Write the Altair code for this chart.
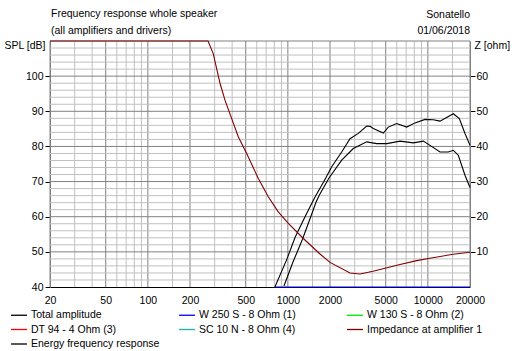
import altair as alt
import pandas as pd

# ---- series names / colours (legend order) ----
series_names = ["Total amplitude", "W 250 S - 8 Ohm  (1)", "W 130 S - 8 Ohm (2)",
                "DT 94 - 4 Ohm (3)", "SC 10 N - 8 Ohm (4)", "Impedance at amplifier 1",
                "Energy frequency response"]
series_colors = ["#000000", "#0000FF", "#00E000", "#FF0000", "#20B0B0", "#800000", "#000000"]

# ---- data ----
tot_freq = [808, 986, 1125, 1326, 1563, 1812, 2057, 2424, 2780, 3186, 3657, 3860, 4076,
            4805, 5216, 5988, 7064, 8094, 9545, 10940, 12210, 15200, 16780, 18420, 20000]
tot_db = [40.0, 48.0, 54.1, 60.0, 65.6, 70.1, 74.2, 78.4, 82.2, 83.7, 85.8, 85.7, 85.1,
          83.8, 85.5, 86.5, 85.5, 86.7, 87.7, 87.6, 87.2, 89.3, 87.9, 83.7, 80.3]

en_freq = [938, 1088, 1272, 1488, 1589, 1676, 1968, 2424, 2935, 3657, 4312, 5108, 6325,
           7874, 9282, 10360, 12210, 14000, 15200, 16500, 18420, 20000]
en_db = [40.3, 47.1, 53.6, 61.0, 64.1, 66.1, 71.0, 76.1, 79.4, 81.3, 80.8, 80.8, 81.5,
         81.0, 81.5, 80.3, 78.4, 78.4, 78.9, 77.5, 71.8, 68.3]

w250_freq = [810, 20000]
w250_db = [40.0, 40.0]

imp_freq = [20, 269, 293, 328, 356, 397, 443, 508, 615, 725, 854, 1008, 1290, 1697, 2000,
            2780, 3276, 4058, 5108, 6325, 8320, 10360, 15130, 20000]
imp_ohm = [70, 70, 66.4, 57.9, 53.1, 47.9, 42.7, 38.0, 30.9, 25.7, 21.4, 18.1, 13.8, 9.4, 7.0,
           4.0, 3.7, 4.5, 5.5, 6.4, 7.5, 8.2, 9.3, 9.9]

# ---- axis ticks / grid ----
freq_labels = [20, 50, 100, 200, 500, 1000, 2000, 5000, 10000, 20000]
freq_minor = [30, 40, 60, 70, 80, 90, 150, 300, 400, 600, 700, 800, 900, 1500,
              3000, 4000, 6000, 7000, 8000, 9000, 15000]
db_labels = [40, 50, 60, 70, 80, 90, 100]
db_major = [50, 60, 70, 80, 90, 100, 110]
db_minor = [42, 44, 46, 48, 52, 54, 56, 58, 62, 64, 66, 68, 72, 74, 76, 78, 82, 84, 86, 88,
            92, 94, 96, 98, 102, 104, 106, 108]
ohm_labels = [10, 20, 30, 40, 50, 60]

title_line1 = "Frequency response whole speaker"
title_line2 = "(all amplifiers and drivers)"
right_line1 = "Sonatello"
right_line2 = "01/06/2018"

FONT = "Liberation Sans"
FS = 10.5

rows = []
for f, v in zip(tot_freq, tot_db):
    rows.append({"f": f, "v": v, "s": series_names[0]})
for f, v in zip(w250_freq, w250_db):
    rows.append({"f": f, "v": v, "s": series_names[1]})
for f, v in zip(en_freq, en_db):
    rows.append({"f": f, "v": v, "s": series_names[6]})
spl_df = pd.DataFrame(rows)
imp_df = pd.DataFrame({"f": imp_freq, "v": imp_ohm, "s": series_names[5]})

xscale = alt.Scale(type="log", domain=[20, 20000], nice=False)
xaxis = alt.Axis(values=freq_labels, format="d", ticks=False, grid=False, domain=True,
                 domainColor="#000000", labelFont=FONT, labelFontSize=FS, labelColor="#000000",
                 labelPadding=8, labelFlush=False, labelOverlap=False, title=None)


def X():
    return alt.X("f:Q", scale=xscale, axis=xaxis)


color = alt.Color("s:N", scale=alt.Scale(domain=series_names, range=series_colors),
                  legend=alt.Legend(title=None, orient="none", legendX=-38, legendY=267,
                                    direction="horizontal", columns=3, gridAlign="all",
                                    symbolType="M-1.33,0H1.33",
                                    symbolSize=144, symbolStrokeWidth=1.3, labelOffset=5,
                                    columnPadding=16, rowPadding=1.5, labelFont=FONT,
                                    labelFontSize=FS, labelColor="#000000", padding=0,
                                    labelLimit=200))

spl_scale = alt.Scale(domain=[40, 110], nice=False, zero=False)

vminor = alt.Chart(pd.DataFrame({"f": freq_minor})).mark_rule(
    color="#C0C0C0", strokeWidth=1).encode(x=X())
vmajor = alt.Chart(pd.DataFrame({"f": freq_labels})).mark_rule(
    color="#808080", strokeWidth=1).encode(x=X())
hminor = alt.Chart(pd.DataFrame({"v": db_minor})).mark_rule(
    color="#C0C0C0", strokeWidth=1).encode(y=alt.Y("v:Q", scale=spl_scale, axis=None))
hmajor = alt.Chart(pd.DataFrame({"v": db_major})).mark_rule(
    color="#808080", strokeWidth=1).encode(y=alt.Y("v:Q", scale=spl_scale, axis=None))

spl_lines = alt.Chart(spl_df).mark_line(strokeWidth=1.1).encode(
    x=X(),
    y=alt.Y("v:Q", scale=spl_scale,
            axis=alt.Axis(orient="left", values=db_labels, grid=False, tickSize=5,
                          tickColor="#000000", domainColor="#808080", labelPadding=2,
                          labelFont=FONT, labelFontSize=FS, labelColor="#000000",
                          title="SPL [dB]", titleAngle=0, titleAlign="right",
                          titleBaseline="middle", titleX=-5, titleY=4, titleFont=FONT,
                          titleFontSize=FS, titleFontWeight="normal", titleColor="#000000")),
    color=color,
    detail="s:N",
)

imp_line = alt.Chart(imp_df).mark_line(strokeWidth=1.1).encode(
    x=X(),
    y=alt.Y("v:Q", scale=alt.Scale(domain=[0, 70], nice=False, zero=False),
            axis=alt.Axis(orient="right", values=ohm_labels, grid=False, tickSize=5,
                          tickColor="#000000", domainColor="#808080", labelPadding=1,
                          labelFont=FONT, labelFontSize=FS, labelColor="#000000",
                          title="Z [ohm]", titleAngle=0, titleAlign="left",
                          titleBaseline="middle", titleX=4, titleY=4, titleFont=FONT,
                          titleFontSize=FS, titleFontWeight="normal", titleColor="#000000")),
    color=color,
)


def label(txt, x, y, align):
    return alt.Chart(pd.DataFrame({"t": [txt]})).mark_text(
        align=align, baseline="middle", font=FONT, fontSize=FS, color="#000000"
    ).encode(text="t:N", x=alt.value(x), y=alt.value(y))


texts = [label(title_line1, 1, -27, "left"), label(title_line2, 1, -10, "left"),
         label(right_line1, 420, -26, "right"), label(right_line2, 420, -10, "right")]

chart = alt.layer(vminor, vmajor, hminor, hmajor, spl_lines, imp_line, *texts).resolve_scale(
    y="independent"
).properties(
    width=420, height=246,
    autosize=alt.AutoSizeParams(type="none"),
    padding={"left": 50, "top": 41, "right": 46, "bottom": 64},
    background="#FFFFFF",
).configure_view(stroke=None)

chart.save("out.html", embed_options={"renderer": "svg", "actions": False})
